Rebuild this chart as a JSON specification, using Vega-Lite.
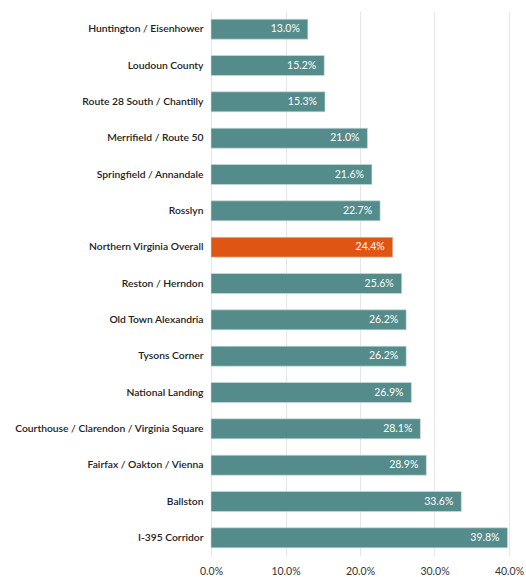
{
  "$schema": "https://vega.github.io/schema/vega-lite/v6.json",
  "autosize": {"type": "none"},
  "padding": {"left": 211, "top": 11, "right": 17, "bottom": 21},
  "width": 298,
  "height": 545,
  "background": "white",
  "config": {"view": {"stroke": null}, "font": "Lato"},
  "data": {"values": [
    {"area": "Huntington / Eisenhower", "rate": 0.130, "overall": false},
    {"area": "Loudoun County", "rate": 0.152, "overall": false},
    {"area": "Route 28 South / Chantilly", "rate": 0.153, "overall": false},
    {"area": "Merrifield / Route 50", "rate": 0.210, "overall": false},
    {"area": "Springfield / Annandale", "rate": 0.216, "overall": false},
    {"area": "Rosslyn", "rate": 0.227, "overall": false},
    {"area": "Northern Virginia Overall", "rate": 0.244, "overall": true},
    {"area": "Reston / Herndon", "rate": 0.256, "overall": false},
    {"area": "Old Town Alexandria", "rate": 0.262, "overall": false},
    {"area": "Tysons Corner", "rate": 0.262, "overall": false},
    {"area": "National Landing", "rate": 0.269, "overall": false},
    {"area": "Courthouse / Clarendon / Virginia Square", "rate": 0.281, "overall": false},
    {"area": "Fairfax / Oakton / Vienna", "rate": 0.289, "overall": false},
    {"area": "Ballston", "rate": 0.336, "overall": false},
    {"area": "I-395 Corridor", "rate": 0.398, "overall": false}
  ]},
  "encoding": {
    "y": {
      "field": "area", "type": "nominal", "sort": null,
      "scale": {"paddingInner": 0.45, "paddingOuter": 0.225},
      "axis": {"title": null, "domain": false, "ticks": false, "labelPadding": 8, "labelFontSize": 10.3, "labelFontWeight": 600, "labelColor": "#222222", "labelLimit": 260}
    },
    "x": {
      "field": "rate", "type": "quantitative",
      "scale": {"domain": [0, 0.4], "nice": false},
      "axis": {"title": null, "values": [0, 0.1, 0.2, 0.3, 0.4], "format": ".1%", "domain": false, "ticks": false, "labelPadding": 10, "labelFontSize": 10.5, "labelColor": "#333333", "grid": true, "gridColor": "#e6e6e6", "labelFlush": false}
    }
  },
  "layer": [
    {
      "mark": {"type": "bar", "stroke": "#cfdede", "strokeWidth": 0.6},
      "encoding": {
        "color": {"field": "overall", "type": "nominal", "scale": {"domain": [false, true], "range": ["#548b8b", "#df5614"]}, "legend": null}
      }
    },
    {
      "mark": {"type": "text", "align": "right", "dx": -8, "color": "white", "fontSize": 10.5},
      "encoding": {
        "text": {"field": "rate", "type": "quantitative", "format": ".1%"}
      }
    }
  ]
}
